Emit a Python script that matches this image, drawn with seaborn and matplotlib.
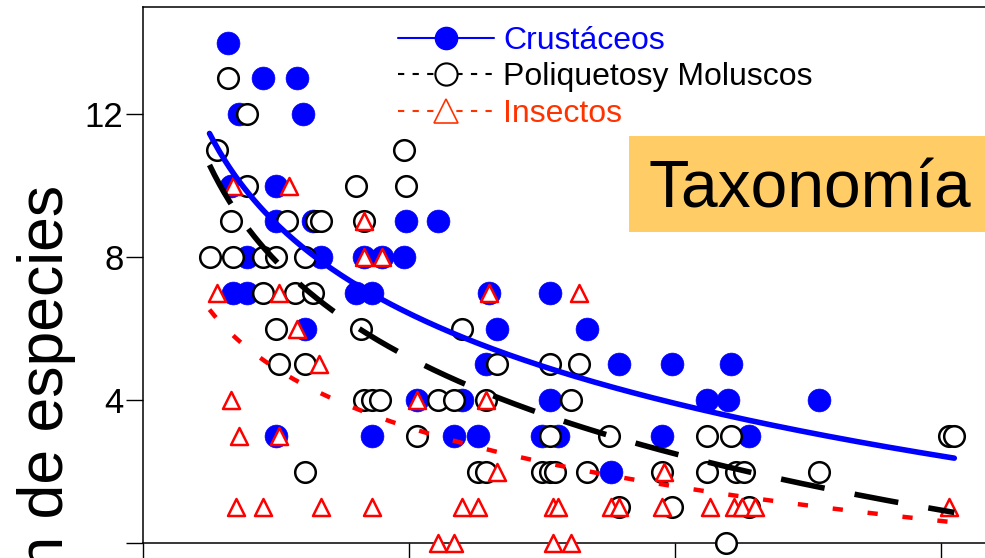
import numpy as np
import matplotlib
matplotlib.use("Agg")
import matplotlib.pyplot as plt
import seaborn as sns
from matplotlib.lines import Line2D
from matplotlib.patches import Rectangle

sns.set_theme(style="white")
plt.rcParams["font.family"] = ["Liberation Sans", "DejaVu Sans"]

# Crustáceos
crus_x = [3.2, 4.5, 5.8, 3.6, 6.0, 3.3, 5.0, 5.0, 6.4, 9.9, 11.1,
          3.9, 6.7, 8.3, 9.0, 9.8, 3.4, 3.9, 8.0, 8.6, 13.0, 15.3,
          6.1, 13.3, 16.7, 12.9, 17.9, 19.9, 22.1,
          10.3, 12.0, 15.3, 21.2, 22.0, 25.4,
          5.0, 8.6, 11.7, 12.6, 15.0, 15.6, 19.5, 22.8, 17.6]
crus_y = [14, 13, 13, 12, 12, 10, 10, 9, 9, 9, 9,
          8, 8, 8, 8, 8, 7, 7, 7, 7, 7, 7,
          6, 6, 6, 5, 5, 5, 5,
          4, 4, 4, 4, 4, 4,
          3, 3, 3, 3, 3, 3, 3, 3, 2]

# Poliquetos y Moluscos
poli_x = [3.2, 3.9, 2.8, 9.8, 3.9, 8.0, 9.9,
          3.3, 5.4, 6.5, 6.7, 8.3,
          2.5, 3.4, 4.5, 5.0, 6.1,
          4.5, 5.7, 6.4, 5.0, 8.2, 12.0,
          5.1, 6.1, 13.3, 15.3, 16.4,
          8.3, 8.6, 8.9, 11.1, 11.7, 12.9, 16.1,
          10.3, 15.3, 17.5, 21.2, 22.1, 30.3, 30.5,
          6.1, 12.6, 12.9, 15.0, 15.3, 15.5, 16.7, 19.5, 21.2, 22.3, 22.6, 25.4,
          17.9, 19.9, 22.8, 21.9]
poli_y = [13, 12, 11, 11, 10, 10, 10,
          9, 9, 9, 9, 9,
          8, 8, 8, 8, 8,
          7, 7, 7, 6, 6, 6,
          5, 5, 5, 5, 5,
          4, 4, 4, 4, 4, 4, 4,
          3, 3, 3, 3, 3, 3, 3,
          2, 2, 2, 2, 2, 2, 2, 2, 2, 2, 2, 2,
          1, 1, 1, 0]

# Insectos
ins_x = [3.4, 5.5, 8.3, 8.3, 9.0,
         2.8, 5.1, 13.0, 16.4, 5.8, 6.6,
         3.3, 10.3, 12.9, 3.6, 5.1, 13.3, 19.6,
         3.5, 4.5, 6.7, 8.6, 12.0, 12.6, 15.4, 15.6, 17.6, 17.9,
         19.5, 21.3, 22.2, 22.5, 23.0, 30.3,
         11.1, 11.7, 15.4, 16.1]
ins_y = [10, 10, 9, 8, 8,
         7, 7, 7, 7, 6, 5,
         4, 4, 4, 3, 3, 2, 2,
         1, 1, 1, 1, 1, 1, 1, 1, 1, 1,
         1, 1, 1, 1, 1, 1,
         0, 0, 0, 0]

series_labels = ["Crustáceos", "Poliquetosy Moluscos", "Insectos"]
y_ticks = [0, 4, 8, 12]
y_tick_labels = ["", "4", "8", "12"]
x_ticks = [0, 10, 20, 30]

BLUE = "#0000FF"
RED = "#FF0000"
ORANGE = "#FF3300"

fig = plt.figure(figsize=(9.85, 5.58), dpi=100)
W, H = 985, 558
ax = fig.add_axes([143 / W, 15 / H, 957.6 / W, 536.25 / H])

# scatter layers
sns.scatterplot(x=crus_x, y=crus_y, ax=ax, marker="o", s=270, color=BLUE,
                edgecolor=BLUE, linewidth=0.5, clip_on=False, zorder=3)
sns.scatterplot(x=poli_x, y=poli_y, ax=ax, marker="o", s=220, color="white",
                edgecolor="black", linewidth=1.8, clip_on=False, zorder=4)
sns.scatterplot(x=ins_x, y=ins_y, ax=ax, marker="^", s=150, color="white",
                edgecolor=RED, linewidth=1.8, clip_on=False, zorder=5)

# logarithmic trend lines fitted to each group
all_x = np.concatenate([crus_x, poli_x, ins_x])
grid = np.linspace(all_x.min(), all_x.max(), 300)


def log_fit(x, y):
    b, a = np.polyfit(np.log(np.asarray(x, float)), np.asarray(y, float), 1)
    return a + b * np.log(grid)


ax.plot(grid, log_fit(crus_x, crus_y), color=BLUE, lw=4.0,
        solid_capstyle="round", zorder=6)
ax.plot(grid, log_fit(poli_x, poli_y), color="black", lw=4.0,
        ls=(0, (8, 5.5)), dash_capstyle="butt", zorder=6)
ax.plot(grid, log_fit(ins_x, ins_y), color=RED, lw=3.2,
        ls=(0, (2.3, 5.6)), dash_capstyle="butt", zorder=6)

ax.set_xlim(0, 36)
ax.set_ylim(0, 15)
ax.set_yticks(y_ticks)
ax.set_yticklabels(y_tick_labels, fontsize=25)
ax.set_xticks(x_ticks)
ax.set_xticklabels([])
ax.tick_params(axis="both", direction="out", length=12, width=1.0,
               color="black", pad=2, labelcolor="black",
               left=True, bottom=True)
for side in ["left", "top", "bottom"]:
    ax.spines[side].set_visible(True)
    ax.spines[side].set_color("black")
    ax.spines[side].set_linewidth(1.1)
ax.spines["right"].set_visible(False)
ax.set_xlabel("")
ax.set_ylabel("")
ax.grid(False)

# legend
handles = [
    Line2D([], [], color=BLUE, lw=1.5, marker="o", markersize=16,
           markerfacecolor=BLUE, markeredgecolor=BLUE),
    Line2D([], [], color="black", lw=1.5, ls=(0, (3, 4)), marker="o",
           markersize=16, markerfacecolor="white", markeredgecolor="black",
           markeredgewidth=1.5),
    Line2D([], [], color=ORANGE, lw=1.5, ls=(0, (3, 4)), marker="^",
           markersize=17, markerfacecolor="white", markeredgecolor=ORANGE,
           markeredgewidth=1.2),
]
leg = ax.legend(handles, series_labels, loc="upper left",
                bbox_to_anchor=(398 / W, 1 - 26 / H),
                bbox_transform=fig.transFigure, frameon=False,
                fontsize=23, handlelength=3.0, handletextpad=0.3,
                labelspacing=0.2, borderpad=0, borderaxespad=0,
                labelcolor=[BLUE, "black", ORANGE])

# title box
fig.patches.append(Rectangle((629 / W, 1 - 232 / H), 1 - 629 / W, 96 / H,
                             transform=fig.transFigure, facecolor="#FFCC66",
                             edgecolor="none", zorder=10))
fig.text(648 / W, 1 - 207 / H, "Taxonomía", fontsize=47.5, color="black",
         ha="left", va="baseline", zorder=11)

# y-axis label
fig.text(63 / W, 1 - 185 / H, "Composición de especies", fontsize=45,
         rotation=90, rotation_mode="anchor", ha="right", va="baseline",
         color="black")

fig.savefig("out.png", dpi=100)
